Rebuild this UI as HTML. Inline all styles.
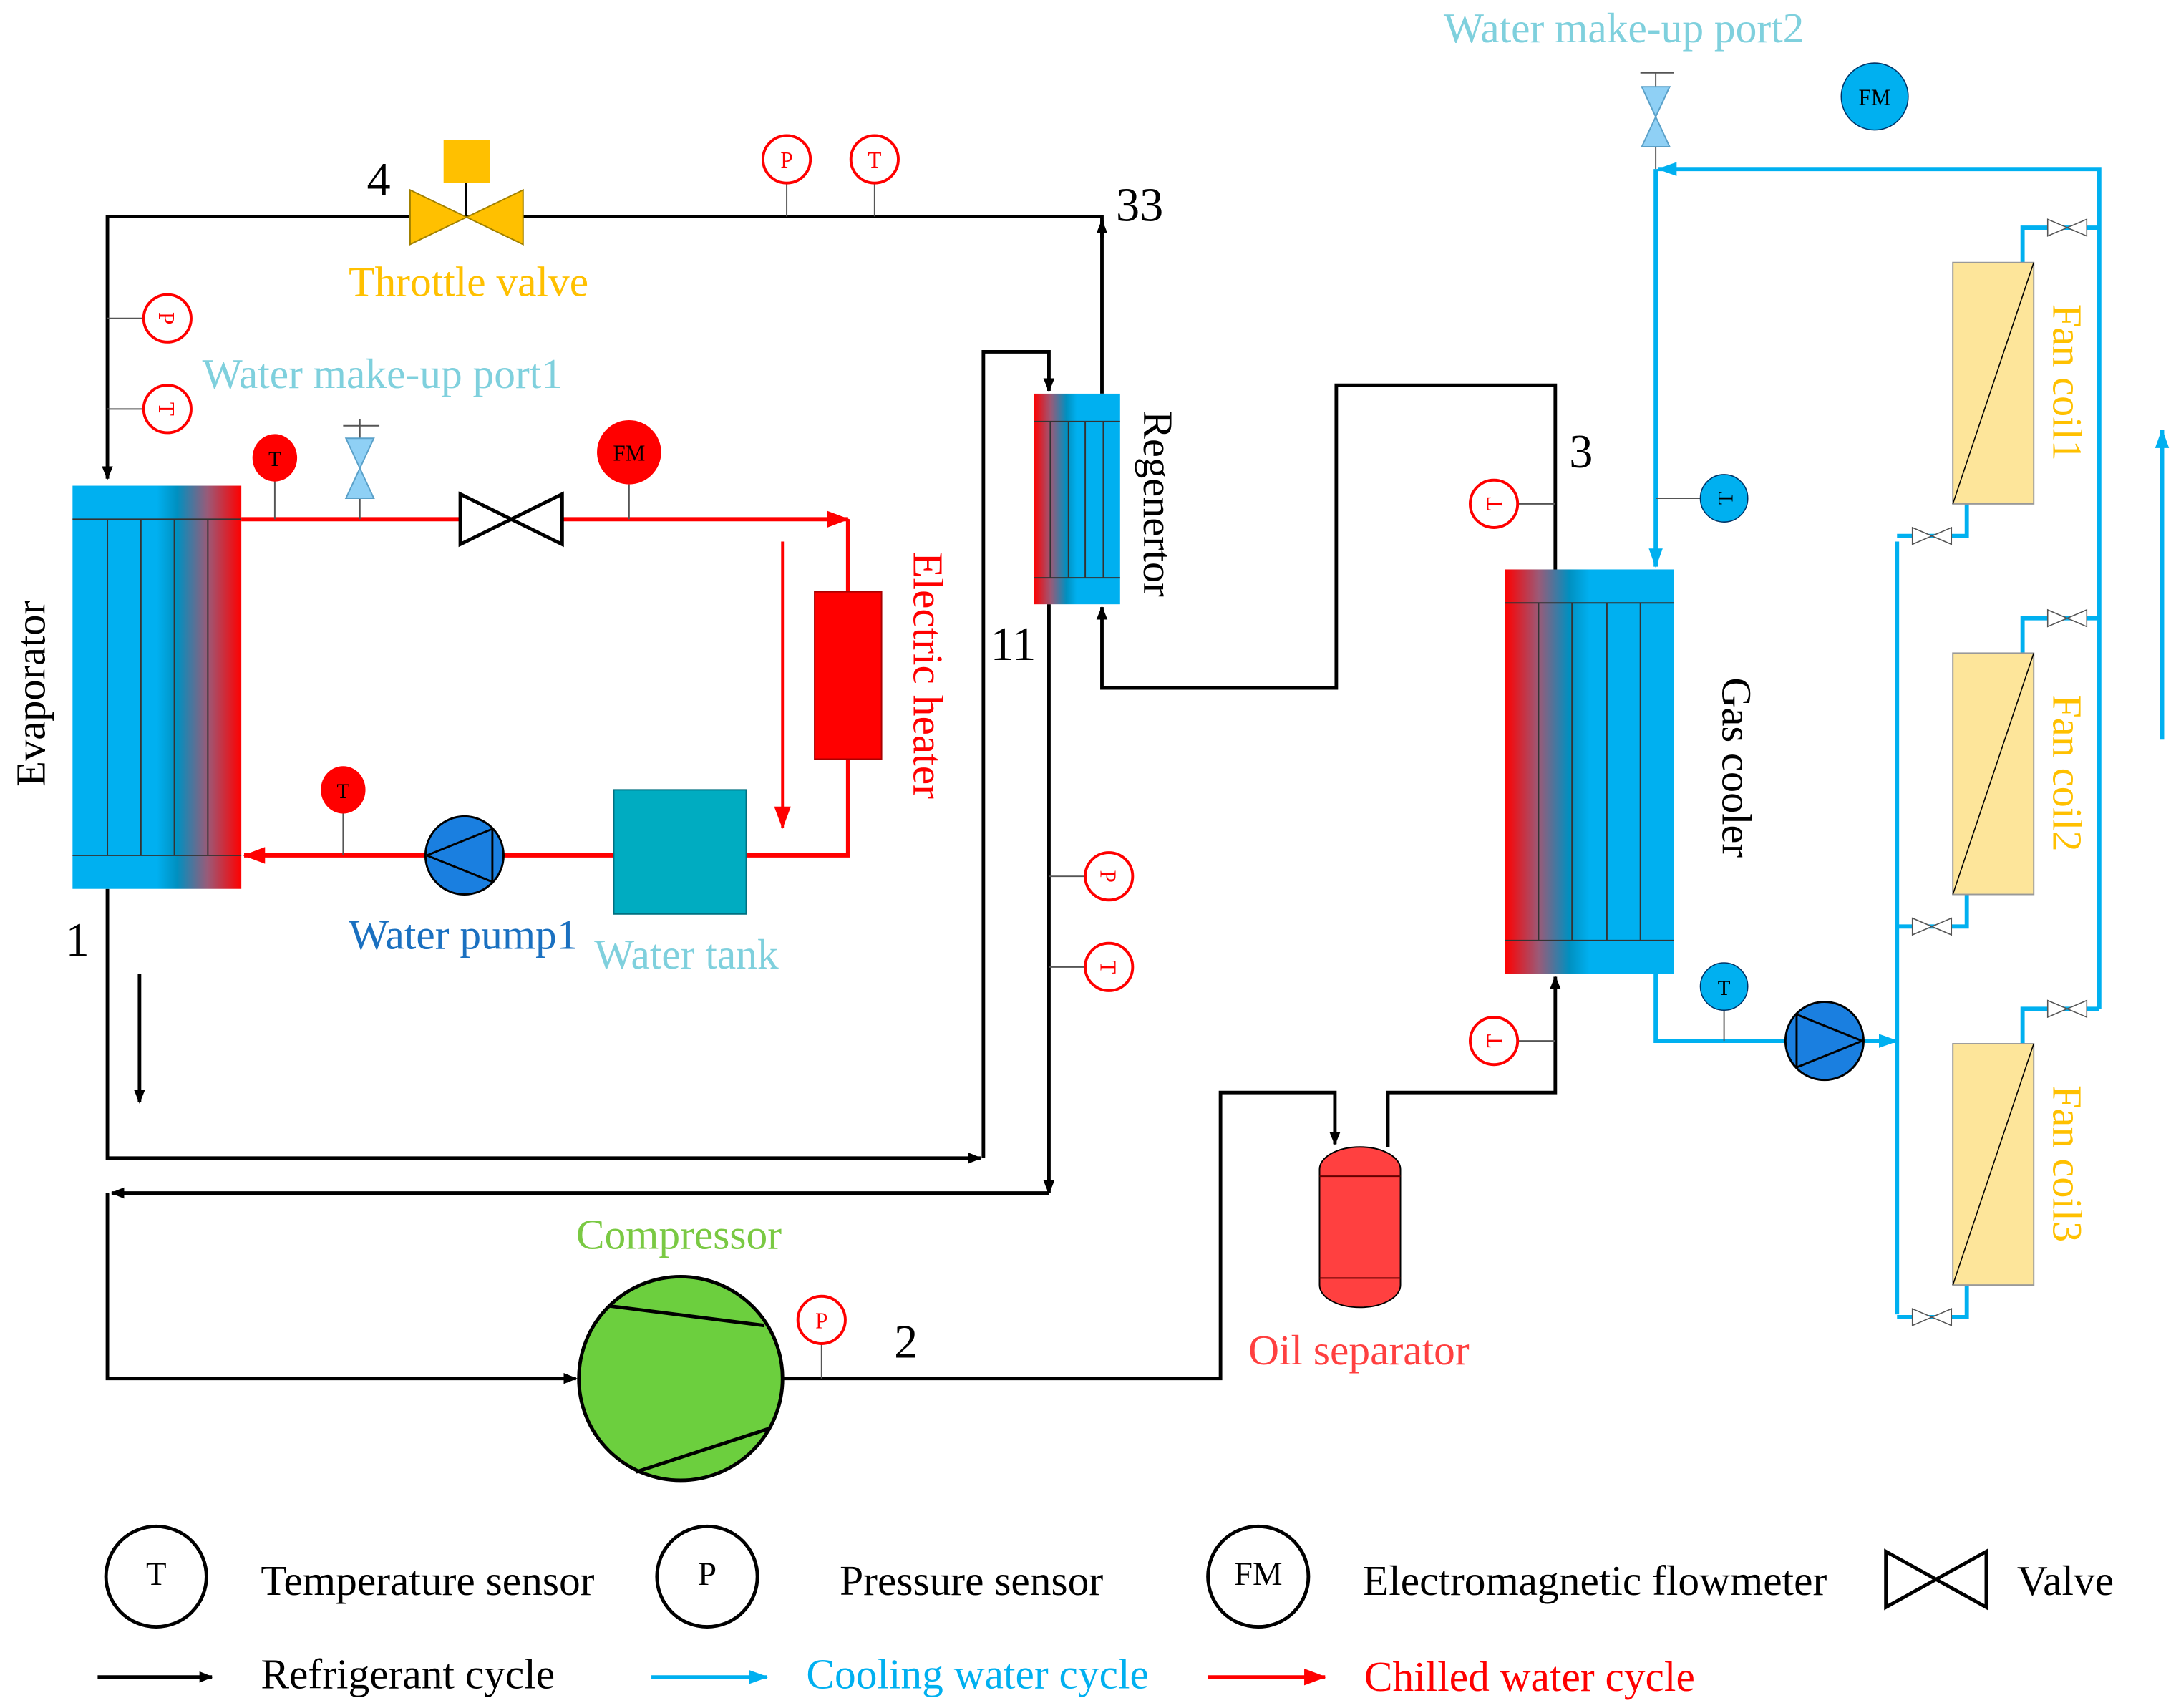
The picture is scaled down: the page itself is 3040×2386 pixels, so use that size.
<!DOCTYPE html>
<html><head><meta charset="utf-8"><style>html,body{margin:0;padding:0;background:#fff}svg{display:block}</style></head><body>
<svg width="3040" height="2386" viewBox="0 0 1560 1224" xmlns="http://www.w3.org/2000/svg" font-family="Liberation Serif, serif">
<defs>
<linearGradient id="evap" x1="0" x2="1" y1="0" y2="0">
<stop offset="0" stop-color="#00b0f0"/><stop offset="0.5" stop-color="#00b0f0"/><stop offset="0.62" stop-color="#0090c0"/><stop offset="0.8" stop-color="#9a5a78"/><stop offset="1" stop-color="#ff0000"/></linearGradient>
<linearGradient id="gc" x1="1" x2="0" y1="0" y2="0">
<stop offset="0" stop-color="#00b0f0"/><stop offset="0.5" stop-color="#00b0f0"/><stop offset="0.62" stop-color="#0090c0"/><stop offset="0.8" stop-color="#9a5a78"/><stop offset="1" stop-color="#ff0000"/></linearGradient>
<marker id="ak" markerWidth="10" markerHeight="8" refX="9" refY="4" orient="auto" markerUnits="userSpaceOnUse"><path d="M0,0 L10,4 L0,8 Z" fill="#000"/></marker>
<marker id="ar" markerWidth="16" markerHeight="12" refX="15" refY="6" orient="auto" markerUnits="userSpaceOnUse"><path d="M0,0 L16,6 L0,12 Z" fill="#ff0000"/></marker>
<marker id="ab" markerWidth="14" markerHeight="10" refX="13" refY="5" orient="auto" markerUnits="userSpaceOnUse"><path d="M0,0 L14,5 L0,10 Z" fill="#00b0f0"/></marker>
</defs>

<!-- refrigerant lines -->
<g stroke="#000" stroke-width="2.5" fill="none">
<polyline points="790,282 790,155 77,155 77,343" marker-end="url(#ak)"/>
<line x1="790" y1="170" x2="790" y2="158" marker-end="url(#ak)"/>
<polyline points="77,637 77,830 703,830" marker-end="url(#ak)"/>
<polyline points="705,830 705,252 752,252 752,280" marker-end="url(#ak)"/>
<line x1="100" y1="698" x2="100" y2="790" marker-end="url(#ak)"/>
<polyline points="752,433 752,855" marker-end="url(#ak)"/>
<polyline points="752,855 80,855" marker-end="url(#ak)"/>
<polyline points="77,855 77,988 413,988" marker-end="url(#ak)"/>
<polyline points="561,988 875,988 875,783 957,783 957,820" marker-end="url(#ak)"/>
<polyline points="995,822 995,783 1115,783 1115,700" marker-end="url(#ak)"/>
<polyline points="1115,408 1115,276 958,276 958,493 790,493 790,435" marker-end="url(#ak)"/>
</g>

<!-- throttle valve -->
<rect x="318" y="100" width="33" height="31" fill="#ffc000"/>
<line x1="334" y1="131" x2="334" y2="155" stroke="#000" stroke-width="1.5"/>
<path d="M294,136 L375,175 L375,136 L294,175 Z" fill="#ffc000" stroke="#a08000" stroke-width="1"/>
<text x="263" y="140" font-size="34">4</text>
<text x="250" y="212" font-size="30.5" fill="#ffc000">Throttle valve</text>
<text x="800" y="158" font-size="34">33</text>
<text x="710" y="473" font-size="34">11</text>
<text x="1125" y="335" font-size="34">3</text>
<text x="47" y="685" font-size="34">1</text>
<text x="641" y="973" font-size="34">2</text>

<!-- sensors red outline -->
<g stroke="#ff0000" stroke-width="2" fill="#fff" font-size="16" text-anchor="middle">
<line x1="77" y1="228" x2="103" y2="228" stroke="#555" stroke-width="1"/><circle cx="120" cy="228" r="17"/>
<line x1="77" y1="293" x2="103" y2="293" stroke="#555" stroke-width="1"/><circle cx="120" cy="293" r="17"/>
<line x1="564" y1="131" x2="564" y2="155" stroke="#555" stroke-width="1"/><circle cx="564" cy="114" r="17"/>
<line x1="627" y1="131" x2="627" y2="155" stroke="#555" stroke-width="1"/><circle cx="627" cy="114" r="17"/>
<line x1="752" y1="628" x2="778" y2="628" stroke="#555" stroke-width="1"/><circle cx="795" cy="628" r="17"/>
<line x1="752" y1="693" x2="778" y2="693" stroke="#555" stroke-width="1"/><circle cx="795" cy="693" r="17"/>
<line x1="589" y1="963" x2="589" y2="988" stroke="#555" stroke-width="1"/><circle cx="589" cy="946" r="17"/>
<line x1="1088" y1="361" x2="1115" y2="361" stroke="#555" stroke-width="1"/><circle cx="1071" cy="361" r="17"/>
<line x1="1088" y1="746" x2="1115" y2="746" stroke="#555" stroke-width="1"/><circle cx="1071" cy="746" r="17"/>
</g>
<g font-size="16" text-anchor="middle" fill="#ff0000">
<text x="120" y="234" transform="rotate(90 120 228)">P</text>
<text x="120" y="299" transform="rotate(90 120 293)">T</text>
<text x="564" y="120">P</text><text x="627" y="120">T</text>
<text x="795" y="634" transform="rotate(90 795 628)">P</text>
<text x="795" y="699" transform="rotate(90 795 693)">T</text>
<text x="589" y="952">P</text>
<text x="1071" y="367" transform="rotate(-90 1071 361)">T</text>
<text x="1071" y="752" transform="rotate(-90 1071 746)">T</text>
</g>

<!-- evaporator -->
<rect x="52" y="348" width="121" height="289" fill="url(#evap)"/>
<g stroke="#333" stroke-width="1"><line x1="52" y1="372" x2="173" y2="372"/><line x1="52" y1="613" x2="173" y2="613"/>
<line x1="77" y1="372" x2="77" y2="613"/><line x1="101" y1="372" x2="101" y2="613"/><line x1="125" y1="372" x2="125" y2="613"/><line x1="149" y1="372" x2="149" y2="613"/></g>
<text x="22" y="497" font-size="30" text-anchor="middle" transform="rotate(-90 22 497)" dy="10">Evaporator</text>

<!-- chilled water -->
<g stroke="#ff0000" stroke-width="3" fill="none">
<line x1="173" y1="372" x2="330" y2="372"/>
<line x1="403" y1="372" x2="608" y2="372" marker-end="url(#ar)"/>
<polyline points="608,372 608,613 535,613"/>
<line x1="440" y1="613" x2="361" y2="613"/>
<line x1="305" y1="613" x2="175" y2="613" marker-end="url(#ar)"/>
<line x1="561" y1="388" x2="561" y2="593" stroke-width="2" marker-end="url(#ar)"/>
</g>
<path d="M330,354 L403,390 L403,354 L330,390 Z" fill="#fff" stroke="#000" stroke-width="2.5"/>
<line x1="197" y1="344" x2="197" y2="372" stroke="#555"/><ellipse cx="197" cy="328" rx="16" ry="17" fill="#ff0000"/><text x="197" y="334" font-size="15" text-anchor="middle">T</text>
<line x1="451" y1="347" x2="451" y2="372" stroke="#555"/><circle cx="451" cy="324" r="23" fill="#ff0000"/><text x="451" y="330" font-size="16" text-anchor="middle">FM</text>
<line x1="258" y1="300" x2="258" y2="372" stroke="#555"/><line x1="246" y1="305" x2="272" y2="305" stroke="#555"/>
<path d="M248,314 L268,314 L248,357 L268,357 Z" fill="#8fd0f5" stroke="#5aa0c8"/>
<line x1="246" y1="582" x2="246" y2="613" stroke="#555"/><ellipse cx="246" cy="566" rx="16" ry="17" fill="#ff0000"/><text x="246" y="572" font-size="15" text-anchor="middle">T</text>
<circle cx="333" cy="613" r="28" fill="#1a7fe0" stroke="#000" stroke-width="1.5"/>
<path d="M306,613 L353,594 M306,613 L353,632 M353,594 L353,632" stroke="#000" stroke-width="1.5" fill="none"/>
<rect x="584" y="424" width="48" height="120" fill="#ff0000" stroke="#a00" stroke-width="1"/>
<rect x="440" y="566" width="95" height="89" fill="#00acc1" stroke="#007080" stroke-width="1"/>
<text x="145" y="278" font-size="30.5" fill="#7fd0dd">Water make-up port1</text>
<text x="250" y="680" font-size="30.5" fill="#1a70c0">Water pump1</text>
<text x="426" y="694" font-size="30.5" fill="#7fd0dd">Water tank</text>
<text x="665" y="484" font-size="30.5" fill="#ff0000" text-anchor="middle" transform="rotate(90 665 484)" dy="10">Electric heater</text>

<!-- regenerator -->
<rect x="741" y="282" width="62" height="151" fill="url(#gc)"/>
<g stroke="#333" stroke-width="1"><line x1="741" y1="302" x2="803" y2="302"/><line x1="741" y1="414" x2="803" y2="414"/>
<line x1="753" y1="302" x2="753" y2="414"/><line x1="766" y1="302" x2="766" y2="414"/><line x1="778" y1="302" x2="778" y2="414"/><line x1="791" y1="302" x2="791" y2="414"/></g>
<text x="830" y="361" font-size="30" text-anchor="middle" transform="rotate(90 830 361)" dy="10">Regenertor</text>

<!-- compressor -->
<circle cx="488" cy="988" r="73" fill="#6ccf3e" stroke="#000" stroke-width="2.5"/>
<line x1="437" y1="936" x2="548" y2="950" stroke="#000" stroke-width="2.5"/>
<line x1="456" y1="1055" x2="551" y2="1024" stroke="#000" stroke-width="2.5"/>
<text x="413" y="895" font-size="30.5" fill="#7ac943">Compressor</text>

<!-- oil separator -->
<rect x="946" y="822" width="58" height="115" rx="29" ry="16" fill="#ff4040" stroke="#000" stroke-width="1"/>
<line x1="946" y1="843" x2="1004" y2="843" stroke="#600"/><line x1="946" y1="916" x2="1004" y2="916" stroke="#600"/>
<text x="895" y="978" font-size="30.5" fill="#ff4040">Oil separator</text>

<!-- gas cooler -->
<rect x="1079" y="408" width="121" height="290" fill="url(#gc)"/>
<g stroke="#333" stroke-width="1"><line x1="1079" y1="432" x2="1200" y2="432"/><line x1="1079" y1="674" x2="1200" y2="674"/>
<line x1="1103" y1="432" x2="1103" y2="674"/><line x1="1127" y1="432" x2="1127" y2="674"/><line x1="1152" y1="432" x2="1152" y2="674"/><line x1="1176" y1="432" x2="1176" y2="674"/></g>
<text x="1245" y="550" font-size="30" text-anchor="middle" transform="rotate(90 1245 550)" dy="10">Gas cooler</text>

<!-- cooling water -->
<g stroke="#00b0f0" stroke-width="3" fill="none">
<polyline points="1505,723 1505,121 1189,121" marker-end="url(#ab)"/>
<polyline points="1187,121 1187,406" marker-end="url(#ab)"/>
<polyline points="1187,698 1187,746 1280,746"/>
<line x1="1336" y1="746" x2="1360" y2="746" marker-end="url(#ab)"/>
<line x1="1360" y1="388" x2="1360" y2="942"/>
<polyline points="1450,188 1450,163 1505,163"/>
<polyline points="1410,361 1410,384 1360,384"/>
<polyline points="1450,468 1450,443 1505,443"/>
<polyline points="1410,641 1410,664 1360,664"/>
<polyline points="1450,748 1450,723 1505,723"/>
<polyline points="1410,921 1410,944 1360,944"/>
<line x1="1550" y1="530" x2="1550" y2="308" marker-end="url(#ab)"/>
</g>
<g fill="#fff" stroke="#555" stroke-width="0.8">
<path d="M1468,157 L1496,169 L1496,157 L1468,169 Z"/><path d="M1371,378 L1399,390 L1399,378 L1371,390 Z"/>
<path d="M1468,437 L1496,449 L1496,437 L1468,449 Z"/><path d="M1371,658 L1399,670 L1399,658 L1371,670 Z"/>
<path d="M1468,717 L1496,729 L1496,717 L1468,729 Z"/><path d="M1371,938 L1399,950 L1399,938 L1371,950 Z"/>
</g>
<g fill="#fde59a" stroke="#999" stroke-width="1">
<rect x="1400" y="188" width="58" height="173"/><rect x="1400" y="468" width="58" height="173"/><rect x="1400" y="748" width="58" height="173"/></g>
<g stroke="#000" stroke-width="0.8"><line x1="1400" y1="361" x2="1458" y2="188"/><line x1="1400" y1="641" x2="1458" y2="468"/><line x1="1400" y1="921" x2="1458" y2="748"/></g>
<g font-size="30" fill="#ffc000" text-anchor="middle">
<text x="1482" y="274" transform="rotate(90 1482 274)" dy="10">Fan coil1</text>
<text x="1482" y="554" transform="rotate(90 1482 554)" dy="10">Fan coil2</text>
<text x="1482" y="834" transform="rotate(90 1482 834)" dy="10">Fan coil3</text></g>
<line x1="1176" y1="52" x2="1200" y2="52" stroke="#555"/><line x1="1187" y1="52" x2="1187" y2="121" stroke="#555"/>
<path d="M1177,62 L1197,62 L1177,105 L1197,105 Z" fill="#8fd0f5" stroke="#5aa0c8"/>
<text x="1035" y="30" font-size="30.5" fill="#7fd0dd">Water make-up port2</text>
<circle cx="1344" cy="69" r="24" fill="#00b0f0" stroke="#036" stroke-width="0.8"/><text x="1344" y="75" font-size="16" text-anchor="middle">FM</text>
<line x1="1187" y1="357" x2="1219" y2="357" stroke="#555"/><circle cx="1236" cy="357" r="17" fill="#00b0f0" stroke="#036" stroke-width="0.8"/><text x="1236" y="363" font-size="15" text-anchor="middle" transform="rotate(-90 1236 357)">T</text>
<line x1="1236" y1="724" x2="1236" y2="746" stroke="#555"/><circle cx="1236" cy="707" r="17" fill="#00b0f0" stroke="#036" stroke-width="0.8"/><text x="1236" y="713" font-size="15" text-anchor="middle">T</text>
<circle cx="1308" cy="746" r="28" fill="#1a7fe0" stroke="#000" stroke-width="1.5"/>
<path d="M1288,727 L1288,765 L1335,746 Z" fill="none" stroke="#000" stroke-width="1.5"/>

<!-- legend -->
<g fill="#fff" stroke="#000" stroke-width="2.5"><circle cx="112" cy="1130" r="36"/><circle cx="507" cy="1130" r="36"/><circle cx="902" cy="1130" r="36"/></g>
<g font-size="24" text-anchor="middle"><text x="112" y="1136">T</text><text x="507" y="1136">P</text><text x="902" y="1136">FM</text></g>
<path d="M1352,1112 L1424,1152 L1424,1112 L1352,1152 Z" fill="#fff" stroke="#000" stroke-width="2.5"/>
<g font-size="30.5"><text x="187" y="1143">Temperature sensor</text><text x="602" y="1143">Pressure sensor</text><text x="977" y="1143">Electromagnetic flowmeter</text><text x="1446" y="1143">Valve</text>
<text x="187" y="1210">Refrigerant cycle</text><text x="578" y="1210" fill="#00b0f0">Cooling water cycle</text><text x="978" y="1212" fill="#ff0000">Chilled water cycle</text></g>
<line x1="70" y1="1202" x2="152" y2="1202" stroke="#000" stroke-width="2.5" marker-end="url(#ak)"/>
<line x1="467" y1="1202" x2="550" y2="1202" stroke="#00b0f0" stroke-width="2.5" marker-end="url(#ab)"/>
<line x1="866" y1="1202" x2="950" y2="1202" stroke="#ff0000" stroke-width="2.5" marker-end="url(#ar)"/>
</svg>
</body></html>
